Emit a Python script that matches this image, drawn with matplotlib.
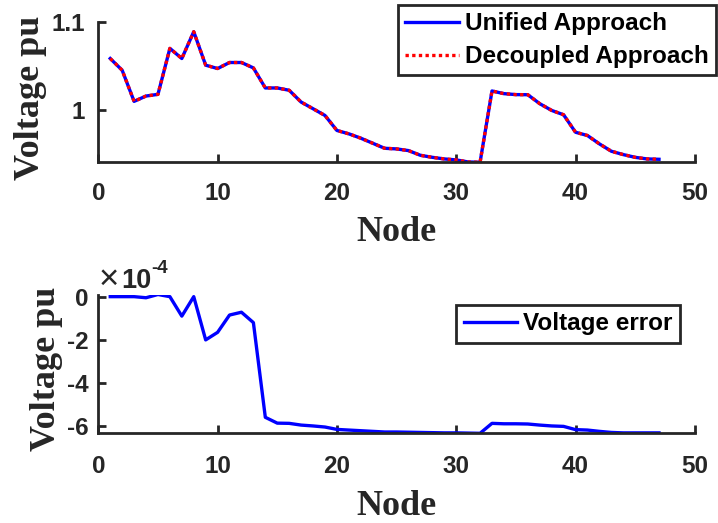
import numpy as np
import matplotlib
matplotlib.use("Agg")
import matplotlib.pyplot as plt

plt.rcParams['axes.unicode_minus'] = False

# bus voltages from both solvers (identical to plotting accuracy)
nodes = np.arange(1, 48)
v_unified = [1.0585, 1.0453, 1.0102, 1.0162, 1.0181, 1.0699, 1.0585, 1.0887,
             1.0510, 1.0472, 1.0540, 1.0540, 1.0479, 1.0253, 1.0253, 1.0227,
             1.0094, 1.0019, 0.9943, 0.9774, 0.9736, 0.9687, 0.9630, 0.9573,
             0.9566, 0.9547, 0.9494, 0.9471, 0.9453, 0.9442, 0.9419, 0.9415,
             1.0219, 1.0189, 1.0178, 1.0177, 1.0076, 1.0000, 0.9951, 0.9754,
             0.9717, 0.9623, 0.9540, 0.9502, 0.9471, 0.9453, 0.9449]
v_decoupled = list(v_unified)

# difference between the two, in units of 1e-4 pu
err_e4 = [0.0, 0.0, 0.0, -0.05, 0.10, 0.0, -0.90, 0.0, -2.00, -1.65,
          -0.85, -0.72, -1.20, -5.58, -5.85, -5.86, -5.94, -5.98, -6.03, -6.14,
          -6.17, -6.20, -6.23, -6.26, -6.26, -6.27, -6.28, -6.29, -6.30, -6.30,
          -6.31, -6.32, -5.86, -5.88, -5.88, -5.89, -5.94, -5.98, -6.00, -6.15,
          -6.17, -6.23, -6.28, -6.30, -6.30, -6.30, -6.30]

xticks = [0, 10, 20, 30, 40, 50]
dark = '#262626'
sans = 'Liberation Sans'
serif = 'Liberation Serif'

W, H = 718, 523
fig = plt.figure(figsize=(W / 100, H / 100), dpi=100)


def px_axes(l, t, r, b):
    return fig.add_axes([l / W, 1 - b / H, (r - l) / W, (b - t) / H])


def style(ax, xpad, ypad):
    for s in ['top', 'right']:
        ax.spines[s].set_visible(False)
    for s in ['left', 'bottom']:
        ax.spines[s].set_color(dark)
        ax.spines[s].set_linewidth(2)
    ax.tick_params(direction='in', length=6, width=2, colors=dark,
                   labelsize=17.5)
    ax.tick_params(axis='x', pad=xpad)
    ax.tick_params(axis='y', pad=ypad)
    for lab in ax.get_xticklabels() + ax.get_yticklabels():
        lab.set_fontfamily(sans)
        lab.set_fontweight('bold')
    ax.set_xlim(0, 50)
    ax.set_xticks(xticks)


legend_kw = dict(loc='upper right', bbox_transform=fig.transFigure,
                 borderaxespad=0, fancybox=False, framealpha=1,
                 edgecolor=dark, handlelength=2.2, handletextpad=0.25,
                 prop={'family': sans, 'weight': 'bold', 'size': 17.5})

# upper panel: voltage profile
ax1 = px_axes(98.3, 21.7, 694.8, 162.3)
ax1.plot(nodes, v_unified, color='blue', lw=2.4, label='Unified Approach')
ax1.plot(nodes, v_decoupled, color='red', lw=2.4, ls=(0, (1, 1)),
         label='Decoupled Approach')
ax1.set_ylim(min(v_unified), 1.1)
ax1.set_yticks([1.0, 1.1])
ax1.set_yticklabels(['1', '1.1'])
ax1.set_xticklabels([str(t) for t in xticks])
style(ax1, 14, 9.6)
ax1.set_xlabel('Node', fontsize=26, fontfamily=serif, fontweight='bold',
               color=dark, va='top')
ax1.xaxis.set_label_coords(0.5, -0.385)
ax1.set_ylabel('Voltage pu', fontsize=26, fontfamily=serif,
               fontweight='bold', color=dark)
ax1.yaxis.set_label_coords(-0.086, 0.46)
leg1 = ax1.legend(bbox_to_anchor=(716 / W, 1 - 5 / H), labelspacing=0.4,
                  borderpad=0.3, **legend_kw)
leg1.get_frame().set_linewidth(2)

# lower panel: error between the two approaches
ax2 = px_axes(98.3, 294.5, 694.8, 433.3)
ax2.plot(nodes, err_e4, color='blue', lw=2.4, label='Voltage error')
ax2.set_ylim(min(err_e4), max(err_e4))
ax2.set_yticks([-6, -4, -2, 0])
ax2.set_yticklabels(['-6', '-4', '-2', '0'])
ax2.set_xticklabels([str(t) for t in xticks])
style(ax2, 15.6, 6.8)
ax2.set_xlabel('Node', fontsize=26, fontfamily=serif, fontweight='bold',
               color=dark, va='top')
ax2.xaxis.set_label_coords(0.5, -0.412)
ax2.set_ylabel('Voltage pu', fontsize=26, fontfamily=serif,
               fontweight='bold', color=dark)
ax2.yaxis.set_label_coords(-0.06, 0.463)
leg2 = ax2.legend(bbox_to_anchor=(680 / W, 1 - 305 / H), borderpad=0.3,
                  **legend_kw)
leg2.get_frame().set_linewidth(2)

# exponent marker for the lower y axis
fig.text(99 / W, 1 - 289 / H, '×', fontsize=25, fontfamily=sans,
         color=dark, va='baseline', ha='left')
fig.text(121 / W, 1 - 287.5 / H, '10', fontsize=19.5, fontfamily=sans,
         fontweight='bold', color=dark, va='baseline', ha='left')
fig.text(151 / W, 1 - 273 / H, '-4', fontsize=13.5, fontfamily=sans,
         fontweight='bold', color=dark, va='baseline', ha='left')

fig.savefig('out.png', dpi=100)
